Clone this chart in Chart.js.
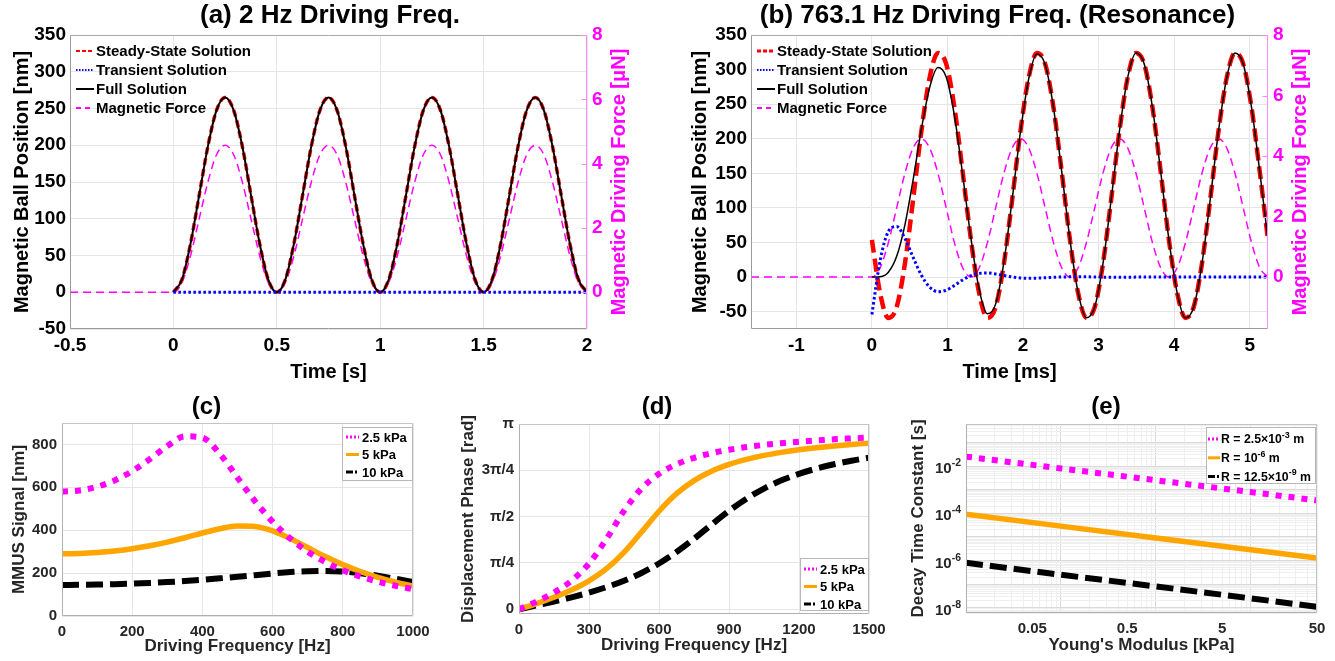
<!DOCTYPE html>
<html><head><meta charset="utf-8">
<script src="https://cdn.jsdelivr.net/npm/chart.js@4.4.1/dist/chart.umd.min.js"></script>
<style>
html,body{margin:0;padding:0;background:#fff;width:1335px;height:661px;overflow:hidden;}
.box{position:absolute;}
canvas{display:block;}
</style></head><body>
<div class="box" style="left:0;top:0"><canvas id="ca" width="660" height="390"></canvas></div>
<div class="box" style="left:660px;top:0"><canvas id="cb" width="675" height="390"></canvas></div>
<div class="box" style="left:0;top:390px"><canvas id="cc" width="445" height="271"></canvas></div>
<div class="box" style="left:445px;top:390px"><canvas id="cd" width="450" height="271"></canvas></div>
<div class="box" style="left:895px;top:390px"><canvas id="ce" width="440" height="271"></canvas></div>
<script>
// ---------- (a) 2 Hz ----------
const timeA = [-0.5,
  0,0.042,0.083,0.125,0.167,0.208,0.25,0.292,0.333,0.375,0.417,0.458,
  0.5,0.542,0.583,0.625,0.667,0.708,0.75,0.792,0.833,0.875,0.917,0.958,
  1,1.042,1.083,1.125,1.167,1.208,1.25,1.292,1.333,1.375,1.417,1.458,
  1.5,1.542,1.583,1.625,1.667,1.708,1.75,1.792,1.833,1.875,1.917,1.958,2];
const steadyA = [null,
  0,17.8,66.3,132.5,198.8,247.2,265,247.2,198.8,132.5,66.3,17.8,
  0,17.8,66.3,132.5,198.8,247.2,265,247.2,198.8,132.5,66.3,17.8,
  0,17.8,66.3,132.5,198.8,247.2,265,247.2,198.8,132.5,66.3,17.8,
  0,17.8,66.3,132.5,198.8,247.2,265,247.2,198.8,132.5,66.3,17.8,0];
const transientA = [null,
  0,0,0,0,0,0,0,0,0,0,0,0, 0,0,0,0,0,0,0,0,0,0,0,0,
  0,0,0,0,0,0,0,0,0,0,0,0, 0,0,0,0,0,0,0,0,0,0,0,0,0];
const fullA = [null,
  0,17.8,66.3,132.5,198.8,247.2,265,247.2,198.8,132.5,66.3,17.8,
  0,17.8,66.3,132.5,198.8,247.2,265,247.2,198.8,132.5,66.3,17.8,
  0,17.8,66.3,132.5,198.8,247.2,265,247.2,198.8,132.5,66.3,17.8,
  0,17.8,66.3,132.5,198.8,247.2,265,247.2,198.8,132.5,66.3,17.8,0];
const forceA = [0,
  0,0.31,1.14,2.29,3.43,4.27,4.57,4.27,3.43,2.29,1.14,0.31,
  0,0.31,1.14,2.29,3.43,4.27,4.57,4.27,3.43,2.29,1.14,0.31,
  0,0.31,1.14,2.29,3.43,4.27,4.57,4.27,3.43,2.29,1.14,0.31,
  0,0.31,1.14,2.29,3.43,4.27,4.57,4.27,3.43,2.29,1.14,0.31,0];
const ticksAX = [-0.5,0,0.5,1,1.5,2];
const ticksAY = [-50,0,50,100,150,200,250,300,350];
const ticksForce = [0,2,4,6,8];

// ---------- (b) 763.1 Hz ----------
const timeB = [-1.6,
  0,0.109,0.218,0.328,0.437,0.546,0.655,0.764,0.874,0.983,1.092,1.201,
  1.311,1.420,1.529,1.638,1.747,1.857,1.966,2.075,2.184,2.293,2.403,2.512,
  2.621,2.730,2.839,2.949,3.058,3.167,3.276,3.385,3.495,3.604,3.713,3.822,
  3.931,4.041,4.150,4.259,4.368,4.478,4.587,4.696,4.805,4.914,5.024,5.133,5.242];
const steadyB = [null,
  53.9,-23.4,-59.0,-43.2,19.6,112.7,211.1,288.4,324.0,308.2,245.4,152.3,
  53.9,-23.4,-59.0,-43.2,19.6,112.7,211.1,288.4,324.0,308.2,245.4,152.3,
  53.9,-23.4,-59.0,-43.2,19.6,112.7,211.1,288.4,324.0,308.2,245.4,152.3,
  53.9,-23.4,-59.0,-43.2,19.6,112.7,211.1,288.4,324.0,308.2,245.4,152.3,53.9];
const transientB = [null,
  -53.9,23.9,66.1,73.2,56.0,28.4,2.7,-14.4,-21.0,-18.9,-12.0,-4.1,
  2.1,5.4,5.9,4.5,2.2,0.2,-1.2,-1.7,-1.5,-0.9,-0.3,0.2,
  0.4,0.5,0.4,0.2,0,-0.1,-0.1,-0.1,0,0,0,0,
  0,0,0,0,0,0,0,0,0,0,0,0,0];
const fullB = [null,
  0,0.5,7.1,30.0,75.6,141.1,213.8,274.0,303.0,289.3,233.4,148.2,
  56.0,-18.0,-53.1,-38.7,21.8,112.9,209.9,286.7,322.5,307.3,245.1,152.5,
  54.3,-22.9,-58.7,-43.0,19.6,112.6,211.0,288.3,324.0,308.2,245.4,152.3,
  53.9,-23.4,-59.0,-43.2,19.6,112.7,211.1,288.4,324.0,308.2,245.4,152.3,53.9];
const forceB = [0,
  0,0.31,1.14,2.29,3.43,4.27,4.57,4.27,3.43,2.29,1.14,0.31,
  0,0.31,1.14,2.29,3.43,4.27,4.57,4.27,3.43,2.29,1.14,0.31,
  0,0.31,1.14,2.29,3.43,4.27,4.57,4.27,3.43,2.29,1.14,0.31,
  0,0.31,1.14,2.29,3.43,4.27,4.57,4.27,3.43,2.29,1.14,0.31,0];
const ticksBX = [-1,0,1,2,3,4,5];
const ticksBY = [-50,0,50,100,150,200,250,300,350];

// ---------- (c) MMUS signal ----------
const freqC = [0,50,100,150,200,250,300,350,400,450,500,550,600,650,700,750,800,850,900,950,1000];
const mmus25 = [580,585.6,602.8,632.4,675.5,731.2,792.4,838,832,755,645,535,440,362,300,252,213,184,160,141,125];
const mmus5 = [290,291.4,295.7,303.0,313.5,327.4,344.7,365.0,387.0,407.1,419.6,417.5,396.9,361.5,319.2,277.2,239.6,207.4,180.4,158.0,139.4];
const mmus10 = [145,145.3,146.4,148.2,150.7,154.0,158.1,163.1,168.9,175.5,182.8,190.5,198.1,204.7,209.2,210.3,207.1,199.2,187.6,173.5,158.4];
const ticksCX = [0,200,400,600,800,1000];
const ticksCY = [0,200,400,600,800];

// ---------- (d) phase ----------
const freqD = [0,75,150,225,300,375,450,525,600,675,750,825,900,975,1050,1125,1200,1275,1350,1425,1500];
const phase25 = [0,0.131,0.283,0.484,0.776,1.194,1.668,2.047,2.297,2.459,2.569,2.647,2.705,2.751,2.787,2.817,2.842,2.863,2.882,2.897,2.911];
const phase5 = [0,0.097,0.203,0.327,0.483,0.689,0.966,1.309,1.662,1.960,2.182,2.341,2.456,2.542,2.609,2.661,2.704,2.739,2.769,2.794,2.816];
const phase10 = [0,0.065,0.131,0.203,0.283,0.376,0.484,0.616,0.776,0.970,1.194,1.435,1.668,1.875,2.047,2.186,2.297,2.386,2.459,2.519,2.569];
const ticksDX = [0,300,600,900,1200,1500];
const ticksDY = [0,0.7854,1.5708,2.3562,3.1416];
const labelsDY = ['0','π/4','π/2','3π/4','π'];

// ---------- (e) decay time ----------
const modE = [0.01,0.1,1,10,50];
const tauR1 = [2.5e-2,7.9e-3,2.5e-3,7.9e-4,3.5e-4];
const tauR2 = [9e-5,2.85e-5,9e-6,2.85e-6,1.27e-6];
const tauR3 = [8e-7,2.5e-7,8e-8,2.5e-8,1.1e-8];
const ticksEX = [0.05,0.5,5,50];
const labelsEX = ['0.05','0.5','5','50'];
const ticksEY = [1e-8,1e-6,1e-4,1e-2];
const expEY = ['-8','-6','-4','-2'];
const legendE = [
  [['R = 2.5×10', 0], ['-3', 1], [' m', 0]],
  [['R = 10', 0], ['-6', 1], [' m', 0]],
  [['R = 12.5×10', 0], ['-9', 1], [' m', 0]]
];

// ================= helpers =================
const FONT = '"Liberation Sans", Arial, Helvetica, sans-serif';
Chart.defaults.font.family = FONT;
Chart.defaults.font.weight = 'bold';
Chart.defaults.color = '#000';
Chart.defaults.animation = false;

const pts = (xs, ys) => xs.map((x, i) => ({x: x, y: ys[i]}));
const setTicks = vals => s => { s.ticks = vals.map(v => ({value: v})); };
const fixW = w => s => { s.width = w; };
const fixH = h => s => { s.height = h; };

const framePlugin = {
  id: 'frame',
  afterDatasetsDraw(chart, args, o) {
    const a = chart.chartArea, ctx = chart.ctx;
    const L = Math.round(a.left) + 0.5, R = Math.round(a.right) - 0.5;
    const T = Math.round(a.top) + 0.5, B = Math.round(a.bottom) - 0.5;
    ctx.save();
    ctx.lineWidth = 1;
    const ln = (x1, y1, x2, y2, c) => { ctx.strokeStyle = c; ctx.beginPath(); ctx.moveTo(x1, y1); ctx.lineTo(x2, y2); ctx.stroke(); };
    ln(L, T, R, T, o.top); ln(L, B, R, B, o.bottom); ln(L, T, L, B, o.left); ln(R, T, R, B, o.right);
    if (o.rightTicks) {
      const s = chart.scales.y2;
      s.ticks.forEach(t => { const y = Math.round(s.getPixelForValue(t.value)) + 0.5; ln(R - 5, y, R, y, o.right); });
    }
    ctx.restore();
  }
};

// draws text made of [string, isSuperscript] runs, left aligned at x, vertically centred on y
function richText(ctx, runs, x, y, size, supSize, color) {
  ctx.fillStyle = color;
  ctx.textBaseline = 'middle';
  ctx.textAlign = 'left';
  let cx = x;
  runs.forEach(r => {
    if (r[1]) {
      ctx.font = 'bold ' + supSize + 'px ' + FONT;
      ctx.fillText(r[0], cx, y - size * 0.38);
    } else {
      ctx.font = 'bold ' + size + 'px ' + FONT;
      ctx.fillText(r[0], cx, y);
    }
    cx += ctx.measureText(r[0]).width;
  });
  return cx - x;
}
function richWidth(ctx, runs, size, supSize) {
  let w = 0;
  runs.forEach(r => { ctx.font = 'bold ' + (r[1] ? supSize : size) + 'px ' + FONT; w += ctx.measureText(r[0]).width; });
  return w;
}

const legendPlugin = {
  id: 'inLegend',
  afterDraw(chart, args, o) {
    const ctx = chart.ctx;
    ctx.save();
    if (o.box) {
      ctx.fillStyle = '#fff';
      ctx.fillRect(o.box[0], o.box[1], o.box[2], o.box[3]);
      ctx.strokeStyle = o.boxColor || '#bbb';
      ctx.lineWidth = 1;
      ctx.strokeRect(o.box[0] + 0.5, o.box[1] + 0.5, o.box[2], o.box[3]);
    }
    chart.data.datasets.forEach((ds, i) => {
      const y = o.y + i * o.rowH;
      ctx.strokeStyle = ds.borderColor;
      ctx.lineWidth = ds.legendWidth || ds.borderWidth;
      ctx.setLineDash(ds.legendDash || []);
      ctx.beginPath(); ctx.moveTo(o.x, y); ctx.lineTo(o.x + o.len, y); ctx.stroke();
      ctx.setLineDash([]);
      const runs = (o.rich && o.rich[i]) || [[ds.label, 0]];
      richText(ctx, runs, o.x + o.len + o.gap, y + 1, o.size, o.size * 0.72, o.color || '#000');
    });
    ctx.restore();
  }
};

const sideTitlePlugin = {
  id: 'sideTitle',
  afterDraw(chart, args, o) {
    if (!o || !o.text) return;
    const ctx = chart.ctx, a = chart.chartArea;
    ctx.save();
    ctx.font = 'bold ' + o.size + 'px ' + FONT;
    ctx.fillStyle = o.color;
    ctx.textAlign = 'center';
    ctx.textBaseline = 'middle';
    ctx.translate(o.x, (a.top + a.bottom) / 2);
    ctx.rotate(-Math.PI / 2);
    ctx.fillText(o.text, 0, 0);
    ctx.restore();
  }
};

// power-of-ten tick labels on the y axis of (e)
const powLabelPlugin = {
  id: 'powLabels',
  afterDraw(chart, args, o) {
    if (!o || !o.values) return;
    const ctx = chart.ctx, s = chart.scales.y;
    ctx.save();
    o.values.forEach((v, i) => {
      const y = s.getPixelForValue(v);
      const runs = [['10', 0], [o.exps[i], 1]];
      const w = richWidth(ctx, runs, o.size, o.supSize);
      richText(ctx, runs, s.right - 5 - w, y + 3, o.size, o.supSize, o.color);
    });
    ctx.restore();
  }
};

const GRID = '#e6e6e6';
const lineEl = { point: { radius: 0 }, line: { cubicInterpolationMode: 'monotone', fill: false, borderCapStyle: 'butt' } };

function topChart(id, cfg) {
  return new Chart(document.getElementById(id), {
    type: 'line',
    data: { datasets: [
      { label: 'Steady-State Solution', data: pts(cfg.time, cfg.steady), borderColor: '#ff0000', borderWidth: cfg.redW, borderDash: cfg.redDash, order: 3, legendWidth: cfg.redLegW, legendDash: [4, 2] },
      { label: 'Transient Solution', data: pts(cfg.time, cfg.transient), borderColor: '#0000ff', borderWidth: 3, borderDash: [2.5, 2.5], order: 1, legendWidth: 2, legendDash: [1.5, 1.5] },
      { label: 'Full Solution', data: pts(cfg.time, cfg.full), borderColor: '#000000', borderWidth: cfg.blackW, order: 2, legendWidth: 2 },
      { label: 'Magnetic Force', data: pts(cfg.time, cfg.force), borderColor: '#ff00ff', borderWidth: 1.5, borderDash: [8, 5], yAxisID: 'y2', order: 4, legendWidth: 2, legendDash: [5, 4] }
    ]},
    options: {
      responsive: false, animation: false,
      elements: lineEl,
      layout: { padding: 0 },
      plugins: {
        legend: { display: false }, tooltip: { enabled: false },
        title: { display: true, text: cfg.title, font: { size: 26, weight: 'bold' }, color: '#000', padding: { top: 0, bottom: 3.8 } },
        frame: { top: '#a8a8a8', bottom: '#9a9a9a', left: '#9a9a9a', right: '#ff88ff', rightTicks: true },
        inLegend: { x: cfg.legX, y: 51, rowH: 19, len: 18, gap: 2, size: 15, color: '#000' },
        sideTitle: { text: 'Magnetic Driving Force [μN]', size: 20, color: '#ff00ff', x: cfg.rightTitleX }
      },
      scales: {
        x: { type: 'linear', min: cfg.xmin, max: cfg.xmax,
             afterFit: fixH(61), afterBuildTicks: setTicks(cfg.ticksX),
             ticks: { font: { size: 19 }, color: '#000', padding: 5, maxRotation: 0, autoSkip: false, callback: v => String(v) },
             grid: { color: GRID, drawTicks: false }, border: { display: false },
             title: { display: true, text: cfg.xTitle, font: { size: 20 }, color: '#000', padding: { top: 0, bottom: 6 } } },
        y: { type: 'linear', position: 'left', min: cfg.ymin, max: 350,
             afterFit: fixW(cfg.leftW), afterBuildTicks: setTicks(cfg.ticksY),
             ticks: { font: { size: 19 }, color: '#000', padding: 4, autoSkip: false, callback: v => String(v) },
             grid: { color: GRID, drawTicks: false }, border: { display: false },
             title: { display: true, text: 'Magnetic Ball Position [nm]', font: { size: 20 }, color: '#000', padding: { top: cfg.leftTitlePad, bottom: 0 } } },
        y2: { type: 'linear', position: 'right', min: cfg.ymin * 8 / 350, max: 8,
              afterFit: fixW(cfg.rightW), afterBuildTicks: setTicks(ticksForce),
              ticks: { font: { size: 19 }, color: '#ff00ff', padding: 5, autoSkip: false, callback: v => String(v) },
              grid: { display: false, drawTicks: false }, border: { display: false } }
      }
    },
    plugins: [framePlugin, legendPlugin, sideTitlePlugin]
  });
}

topChart('ca', {
  title: '(a) 2 Hz Driving Freq.', xTitle: 'Time [s]',
  time: timeA, steady: steadyA, transient: transientA, full: fullA, force: forceA,
  xmin: -0.5, xmax: 2, ymin: -50, ticksX: ticksAX, ticksY: ticksAY,
  leftW: 70, rightW: 73, leftTitlePad: 10, rightTitleX: 619, legX: 76,
  redW: 3.5, redDash: [7, 4], redLegW: 2, blackW: 2
});
topChart('cb', {
  title: '(b) 763.1 Hz Driving Freq. (Resonance)', xTitle: 'Time [ms]',
  time: timeB, steady: steadyB, transient: transientB, full: fullB, force: forceB,
  xmin: -1.6, xmax: 5.242, ymin: -75, ticksX: ticksBX, ticksY: ticksBY,
  leftW: 91, rightW: 67, leftTitlePad: 28, rightTitleX: 640, legX: 97,
  redW: 4.5, redDash: [13, 6], redLegW: 3, blackW: 1.5
});

function bottomChart(id, cfg) {
  return new Chart(document.getElementById(id), {
    type: 'line',
    data: { datasets: [
      { label: cfg.labels[0], data: pts(cfg.xs, cfg.s1), borderColor: '#ff00ff', borderWidth: 6, borderDash: [6, 7], order: 1, legendWidth: 3, legendDash: [2, 2] },
      { label: cfg.labels[1], data: pts(cfg.xs, cfg.s2), borderColor: '#ffa500', borderWidth: 5.5, order: 2, legendWidth: 3 },
      { label: cfg.labels[2], data: pts(cfg.xs, cfg.s3), borderColor: '#000000', borderWidth: 6, borderDash: [17, 7], order: 3, legendWidth: 3, legendDash: [7, 2, 2, 2] }
    ]},
    options: {
      responsive: false, animation: false,
      elements: { point: { radius: 0 }, line: { cubicInterpolationMode: cfg.logx ? 'default' : 'monotone', tension: 0, fill: false, borderCapStyle: 'butt' } },
      layout: { padding: { left: 0, right: cfg.padR, top: 0, bottom: 0 } },
      plugins: {
        legend: { display: false }, tooltip: { enabled: false },
        title: { display: true, text: cfg.title, font: { size: 24, weight: 'bold' }, color: '#000', padding: { top: 3, bottom: cfg.topH - 3 - 28.8 } },
        frame: { top: '#c4c4c4', bottom: '#b0b0b0', left: '#b0b0b0', right: '#c4c4c4' },
        inLegend: cfg.legend,
        powLabels: cfg.pow || {}
      },
      scales: {
        x: Object.assign({
             afterFit: fixH(cfg.botH),
             ticks: { font: { size: 15 }, color: '#262626', padding: 7, maxRotation: 0, autoSkip: false, callback: cfg.xcb },
             grid: { color: cfg.xgrid || GRID, drawTicks: false }, border: { display: false },
             title: { display: true, text: cfg.xTitle, font: { size: 17 }, color: '#262626', padding: { top: 0, bottom: cfg.xTitlePad } } }, cfg.xs_),
        y: Object.assign({ position: 'left',
             afterFit: fixW(cfg.leftW),
             ticks: { font: { size: 15 }, color: '#262626', padding: 5, autoSkip: false, callback: cfg.ycb },
             grid: { color: cfg.ygrid || GRID, drawTicks: false }, border: { display: false },
             title: { display: true, text: cfg.yTitle, font: { size: 17 }, color: '#262626', padding: { top: cfg.yTitlePad, bottom: 0 } } }, cfg.ys_)
      }
    },
    plugins: [framePlugin, legendPlugin, powLabelPlugin]
  });
}

bottomChart('cc', {
  title: '(c)', xTitle: 'Driving Frequency [Hz]', yTitle: 'MMUS Signal [nm]',
  labels: ['2.5 kPa', '5 kPa', '10 kPa'], xs: freqC, s1: mmus25, s2: mmus5, s3: mmus10,
  padR: 32, topH: 33, botH: 45, leftW: 62, xTitlePad: 4, yTitlePad: 9.5,
  xs_: { type: 'linear', min: 0, max: 1000, afterBuildTicks: setTicks(ticksCX) },
  ys_: { type: 'linear', min: 0, max: 900, afterBuildTicks: setTicks(ticksCY) },
  xcb: v => String(v), ycb: v => String(v),
  legend: { box: [342, 37, 70, 53], boxColor: '#b8b8b8', x: 346, y: 47, rowH: 17.5, len: 13, gap: 3, size: 13, color: '#000' }
});

bottomChart('cd', {
  title: '(d)', xTitle: 'Driving Frequency [Hz]', yTitle: 'Displacement Phase [rad]',
  labels: ['2.5 kPa', '5 kPa', '10 kPa'], xs: freqD, s1: phase25, s2: phase5, s3: phase10,
  padR: 26, topH: 34, botH: 47, leftW: 74, xTitlePad: 5, yTitlePad: 13.5,
  xs_: { type: 'linear', min: 0, max: 1500, afterBuildTicks: setTicks(ticksDX) },
  ys_: { type: 'linear', min: -0.08, max: 3.1416, afterBuildTicks: setTicks(ticksDY) },
  xcb: v => String(v), ycb: (v, i) => labelsDY[i],
  legend: { box: [355, 168, 68, 52], boxColor: '#b8b8b8', x: 359, y: 179, rowH: 17.5, len: 13, gap: 3, size: 13, color: '#000' }
});

const isDecade = v => Math.abs(Math.log10(v) - Math.round(Math.log10(v))) < 1e-6;
const logGrid = ctx => (ctx.tick && isDecade(ctx.tick.value)) ? '#dadada' : '#efefef';
const logTicks = (lo, hi, e0, e1) => s => {
  const t = [];
  for (let e = e0; e <= e1; e++) for (let m = 1; m <= 9; m++) {
    const v = m * Math.pow(10, e);
    if (v >= lo * 0.999999 && v <= hi * 1.000001) t.push({ value: v });
  }
  s.ticks = t;
};
const pick = (vals, labs) => v => { const i = vals.findIndex(u => Math.abs(u - v) / u < 1e-6); return i >= 0 ? labs[i] : ''; };

bottomChart('ce', {
  title: '(e)', xTitle: "Young's Modulus [kPa]", yTitle: 'Decay Time Constant [s]',
  labels: ['R = 2.5×10⁻³ m', 'R = 10⁻⁶ m', 'R = 12.5×10⁻⁹ m'], xs: modE, s1: tauR1, s2: tauR2, s3: tauR3,
  padR: 18, topH: 34, botH: 48, leftW: 71, xTitlePad: 5, yTitlePad: 13.5, logx: true,
  xs_: { type: 'logarithmic', min: 0.01, max: 50, afterBuildTicks: logTicks(0.01, 50, -2, 1) },
  ys_: { type: 'logarithmic', min: 6e-9, max: 0.6, afterBuildTicks: logTicks(6e-9, 0.6, -9, -1) },
  xgrid: logGrid, ygrid: logGrid,
  xcb: pick(ticksEX, labelsEX), ycb: () => '',
  pow: { values: ticksEY, exps: expEY, size: 15, supSize: 10.5, color: '#262626' },
  legend: { box: [311, 37, 109, 56], boxColor: '#b8b8b8', x: 313, y: 49, rowH: 18.8, len: 12, gap: 1, size: 12.3, color: '#000', rich: legendE }
});
</script>
</body></html>
